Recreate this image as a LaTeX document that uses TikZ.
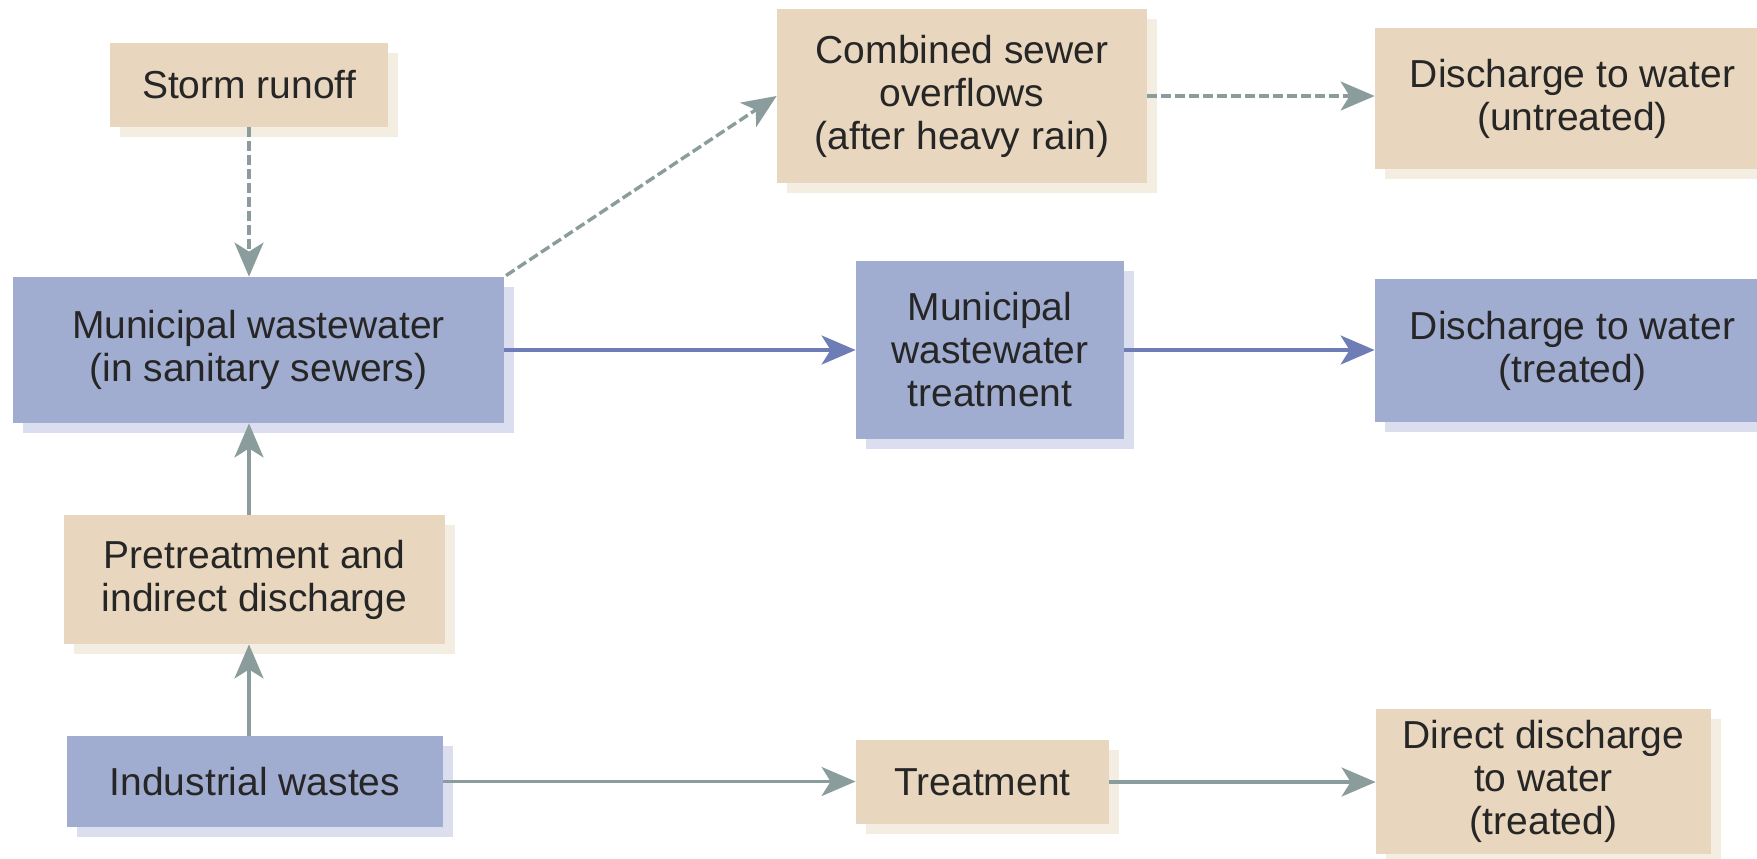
\documentclass[tikz,border=0pt]{standalone}
\usepackage{fontspec}
\setmainfont{Liberation Sans}
\usetikzlibrary{arrows.meta,shadows}
\definecolor{tanfill}{HTML}{E8D7BE}
\definecolor{tanshade}{HTML}{F4EDE2}
\definecolor{bluefill}{HTML}{A1ADD0}
\definecolor{blueshade}{HTML}{DADEEE}
\definecolor{grayarrow}{HTML}{8B9C9C}
\definecolor{bluearrow}{HTML}{6E7DB6}
\definecolor{txt}{HTML}{262626}
\tikzset{
  box/.style={rectangle, inner sep=0pt, align=center, text=txt,
    font=\fontsize{19.5}{21.5}\selectfont},
  tanbox/.style={box, fill=tanfill,
    drop shadow={shadow xshift=5pt, shadow yshift=-5pt, fill=tanshade, opacity=1}},
  bluebox/.style={box, fill=bluefill,
    drop shadow={shadow xshift=5pt, shadow yshift=-5pt, fill=blueshade, opacity=1}},
  sz/.style 2 args={minimum width=#1*0.5pt, minimum height=#2*0.5pt},
  tip/.style={-{Stealth[length=17pt, width=14.5pt, inset=4.5pt]}},
  grayline/.style={tip, draw=grayarrow, line width=1.7pt},
  blueline/.style={tip, draw=bluearrow, line width=1.7pt},
  dashline/.style={grayline, dash pattern=on 5pt off 2pt},
}
\begin{document}
\begin{tikzpicture}[x=0.5pt, y=-0.5pt]
\clip (0,0) rectangle (1757,858);
\fill[white] (0,0) rectangle (1757,858);
% nodes
\node[tanbox, sz={278}{84}] (storm) at (249,85) {Storm runoff};
\node[bluebox, sz={491}{146}] (muni) at (258.5,350) {Municipal wastewater\\(in sanitary sewers)};
\node[tanbox, sz={370}{174}] (cso) at (962,96) {Combined sewer\\overflows\\(after heavy rain)};
\node[tanbox, sz={395}{141}] (dischU) at (1572.5,98.5) {Discharge to water\\(untreated)};
\node[bluebox, sz={268}{178}] (mwt) at (990,350) {Municipal\\wastewater\\treatment};
\node[bluebox, sz={395}{143}] (dischT) at (1572.5,350.5) {Discharge to water\\(treated)};
\node[tanbox, sz={381}{129}] (pre) at (254.5,579.5) {Pretreatment and\\indirect discharge};
\node[bluebox, sz={376}{91}] (ind) at (255,781.5) {Industrial wastes};
\node[tanbox, sz={253}{84}] (treat) at (982.5,782) {Treatment};
\node[tanbox, sz={335}{145}] (direct) at (1543.5,781.5) {Direct discharge\\to water\\(treated)};
% connectors
\draw[dashline] (storm.south) -- (storm.south |- muni.north);
\draw[dashline, shorten <=1pt] (muni.north east) -- (cso.west);
\draw[dashline] (cso.east) -- (cso.east -| dischU.west);
\draw[blueline] (muni.east) -- (muni.east -| mwt.west);
\draw[blueline] (mwt.east) -- (mwt.east -| dischT.west);
\draw[grayline] (storm.south |- pre.north) -- (storm.south |- muni.south);
\draw[grayline] (storm.south |- ind.north) -- (storm.south |- pre.south);
\draw[grayline] (ind.east) -- (ind.east -| treat.west);
\draw[grayline] (treat.east) -- (treat.east -| direct.west);
\end{tikzpicture}
\end{document}
